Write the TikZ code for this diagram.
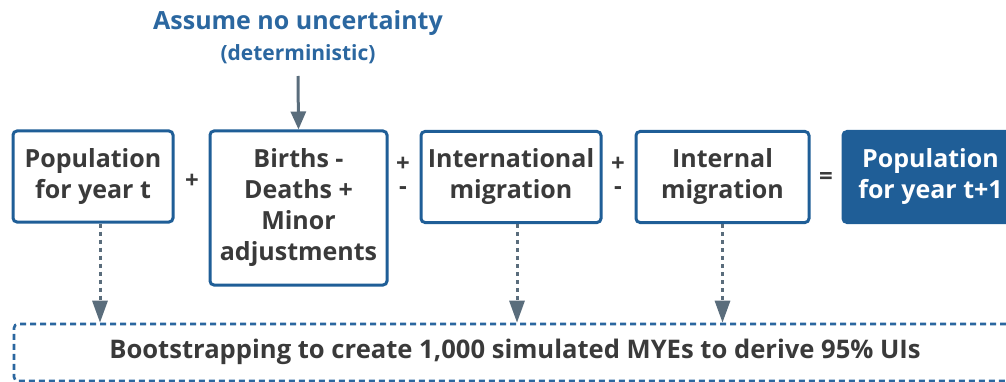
\documentclass[tikz,border=0pt]{standalone}
\usepackage{fontspec}
\setmainfont{Open Sans}
\usepackage{tikz}
\usetikzlibrary{arrows.meta}
\definecolor{boxblue}{HTML}{1F5E97}
\definecolor{headblue}{HTML}{2B67A0}
\definecolor{ink}{HTML}{3A3A3A}
\definecolor{slate}{HTML}{5A6D7C}
\tikzset{
  stage/.style={draw=boxblue, line width=3pt, rounded corners=4pt, fill=white,
    text=ink, font=\bfseries\fontsize{25}{31}\selectfont, align=center,
    inner sep=0pt, minimum height=91pt},
  result/.style={stage, fill=boxblue, text=white},
  op/.style={text=ink, font=\bfseries\fontsize{24}{26}\selectfont, inner sep=0pt},
  fixarrow/.style={draw=slate, line width=3pt, -{Triangle[width=15pt,length=18pt]}},
  bootarrow/.style={draw=slate, line width=3pt, dash pattern=on 4pt off 4pt,
    -{Triangle[width=15pt,length=22pt]}},
  bootbox/.style={draw=headblue, line width=2.6pt, dash pattern=on 6pt off 4pt,
    rounded corners=4pt, inner sep=0pt},
}
\begin{document}
\begin{tikzpicture}[x=1pt,y=-1pt]
  \useasboundingbox (0,0) rectangle (1006,382);
  % headline above the second stage
  \node[text=headblue, font=\bfseries\fontsize{25}{28}\selectfont] (assume) at (298,23) {Assume no uncertainty};
  \node[text=headblue, font=\bfseries\fontsize{21}{24}\selectfont] (determ) at (298,54) {(deterministic)};
  % the five stages
  \node[stage, minimum width=160pt] (popt) at (93,176.5) {Population\\for year t};
  \node[stage, minimum width=177pt, minimum height=154pt] (births) at (298.5,208) {Births -\\Deaths +\\Minor\\adjustments};
  \node[stage, minimum width=180pt] (intl) at (511,177) {International\\migration};
  \node[stage, minimum width=173pt] (intern) at (722.5,177) {Internal\\migration};
  \node[result, minimum width=175pt] (poptone) at (930.5,177) {Population\\for year t+1};
  % signs between the stages
  \node[op] (plusa) at (192,181) {+};
  \node[op, align=center, font=\bfseries\fontsize{24}{23}\selectfont] (pmb) at (403,176) {+\\-};
  \node[op, align=center, font=\bfseries\fontsize{24}{23}\selectfont] (pmc) at (618,176) {+\\-};
  \node[op] (equal) at (826,179) {=};
  % bootstrap box
  \node[bootbox, minimum width=1016pt, minimum height=57pt] (boot) at (522,352.5) {};
  \node[text=ink, font=\bfseries\fontsize{25.6}{28}\selectfont] (boottext) at (515,352) {Bootstrapping to create 1,000 simulated MYEs to derive 95\% UIs};
  % arrows
  \draw[fixarrow] (298,76) -- (births.north);
  \draw[bootarrow] ([xshift=7pt]popt.south) -- ([xshift=7pt]popt.south |- boot.north);
  \draw[bootarrow] ([xshift=6pt]intl.south) -- ([xshift=6pt]intl.south |- boot.north);
  \draw[bootarrow] (intern.south) -- (intern.south |- boot.north);
\end{tikzpicture}
\end{document}
